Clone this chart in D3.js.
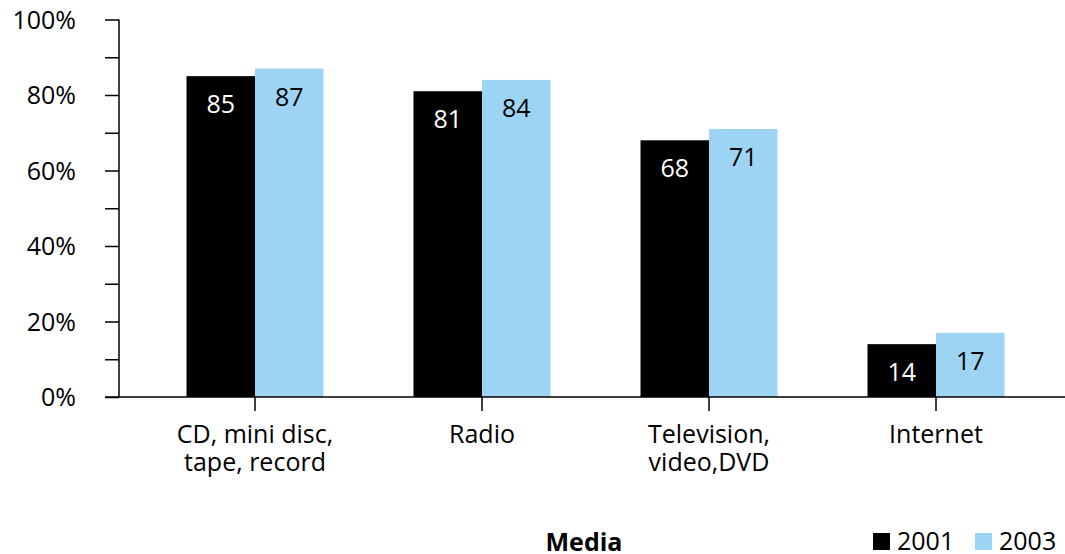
<!DOCTYPE html>
<html><head><meta charset="utf-8">
<script src="https://cdn.jsdelivr.net/npm/d3@7"></script>
<style>body{margin:0;background:#fff}svg{display:block}text{font-family:"Open Sans","Noto Sans",sans-serif;}</style>
</head><body><svg id="c" width="1065" height="554"></svg>
<script>
const categories = [["CD, mini disc,","tape, record"],["Radio"],["Television,","video,DVD"],["Internet"]];
const series = ["2001","2003"];
const values2001 = [85,81,68,14];
const values2003 = [87,84,71,17];
const yTicks = [0,10,20,30,40,50,60,70,80,90,100];
const colors = ["#000000","#9dd4f3"];
const xTitle = "Media";

const svg = d3.select("#c");
const y = d3.scaleLinear().domain([0,100]).range([397,19.5]);
const x = d3.scaleBand().domain(d3.range(categories.length)).range([141.5,1049.5]);
const barW = 68.5;
const fs = 25;

// bars
const data = [values2001, values2003];
data.forEach((vals, si) => {
  vals.forEach((v, i) => {
    const cx = x(i) + x.bandwidth()/2;
    const x0 = si === 0 ? cx - barW : cx;
    svg.append("rect").attr("x", x0).attr("y", y(v)).attr("width", barW).attr("height", y(0)-y(v)).attr("fill", colors[si]);
    svg.append("text").attr("x", x0 + barW/2).attr("y", y(v) + 37).attr("text-anchor","middle")
      .attr("font-size", fs).attr("fill", si === 0 ? "#fff" : "#000").text(v);
  });
});

// y axis
const yAxis = d3.axisLeft(y).tickValues(yTicks).tickSize(14).tickPadding(29)
  .tickFormat(d => d % 20 === 0 ? d + "%" : "");
const gy = svg.append("g").attr("transform","translate(119,0)").call(yAxis);
gy.select(".domain").attr("d","M0,19.5V397").attr("stroke","#000").attr("stroke-width",1.5);
gy.selectAll(".tick line").attr("stroke","#000").attr("stroke-width",1.5);
gy.selectAll(".tick text").attr("font-size", fs).attr("fill","#000").attr("font-family",'"Open Sans","Noto Sans",sans-serif').attr("dy","0.35em");

// x axis
svg.append("line").attr("x1",105).attr("x2",1065).attr("y1",397).attr("y2",397).attr("stroke","#000").attr("stroke-width",1.5);
categories.forEach((lines, i) => {
  const cx = x(i) + x.bandwidth()/2;
  svg.append("line").attr("x1",cx).attr("x2",cx).attr("y1",397).attr("y2",411).attr("stroke","#000").attr("stroke-width",1.5);
  const t = svg.append("text").attr("text-anchor","middle").attr("font-size",fs).attr("fill","#000");
  lines.forEach((l, j) => t.append("tspan").attr("x",cx).attr("y",443 + j*28).text(l));
});

// x title
svg.append("text").attr("x",584).attr("y",551).attr("text-anchor","middle").attr("font-size",fs).attr("font-weight","bold").attr("fill","#000").text(xTitle);

// legend
const legX = [873, 975];
series.forEach((s, i) => {
  svg.append("rect").attr("x",legX[i]).attr("y",533).attr("width",17).attr("height",17).attr("fill",colors[i]);
  svg.append("text").attr("x",legX[i]+24).attr("y",550).attr("font-size",fs).attr("fill","#000").text(s);
});
</script></body></html>
